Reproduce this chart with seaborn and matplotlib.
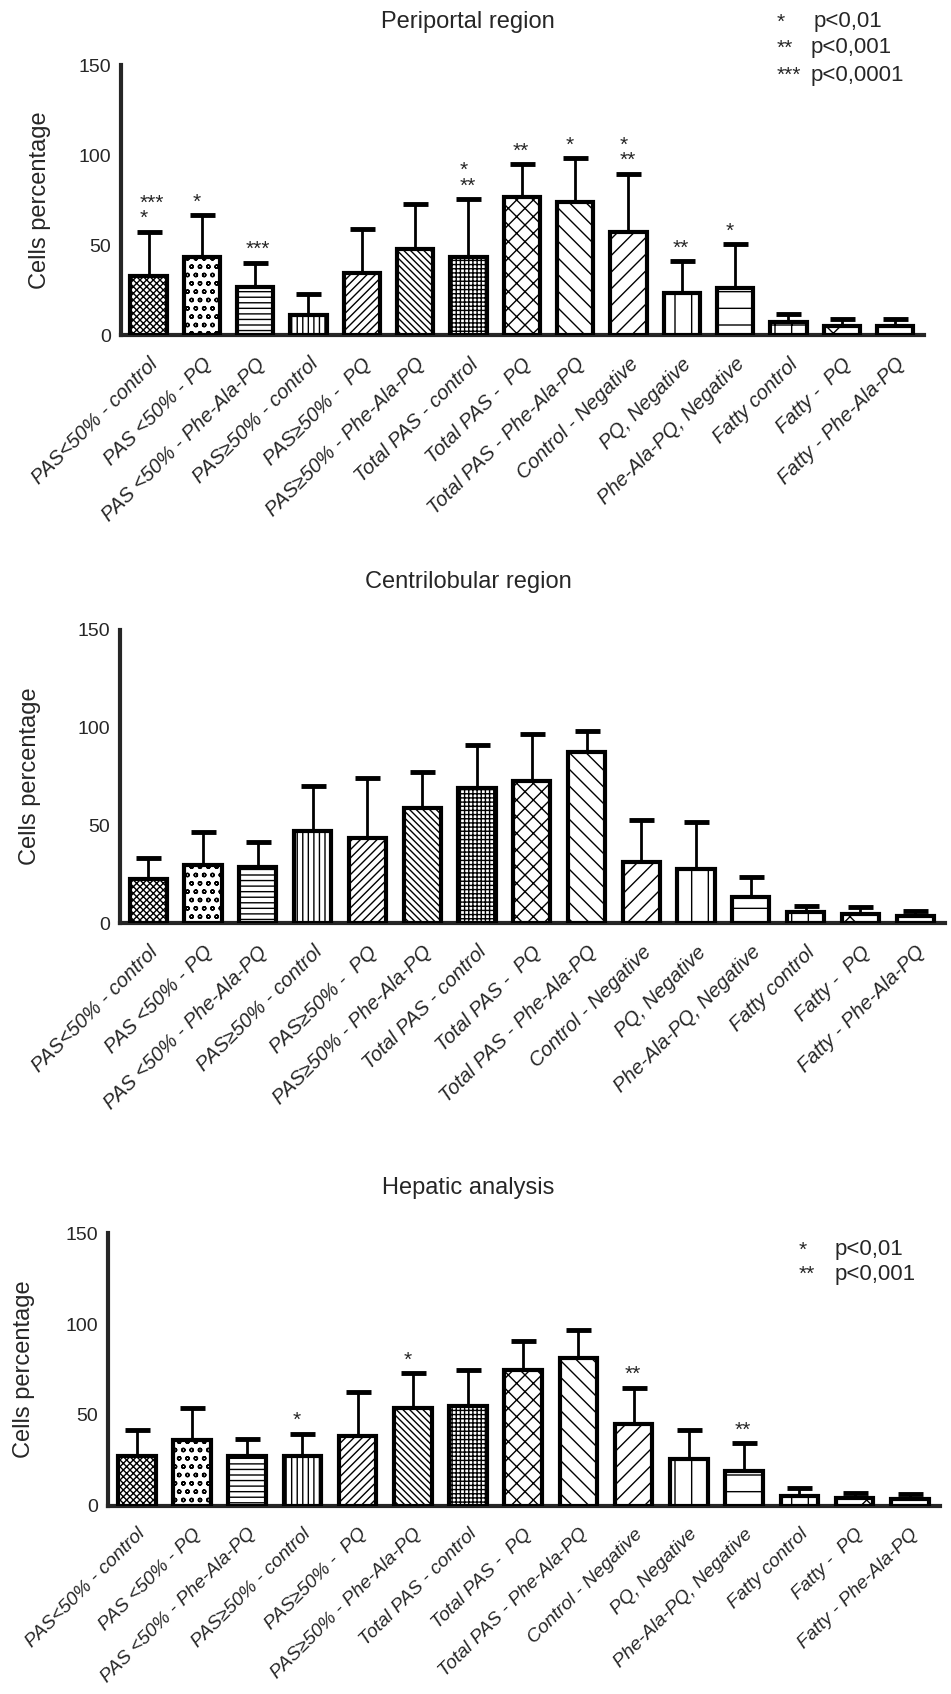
import numpy as np
import matplotlib
matplotlib.use('Agg')
import matplotlib.pyplot as plt
import seaborn as sns

# groups on the x axis (same for the three panels)
groups = ['PAS<50% - control', 'PAS <50% - PQ', 'PAS <50% - Phe-Ala-PQ',
          'PAS≥50% - control', 'PAS≥50% -  PQ', 'PAS≥50% - Phe-Ala-PQ',
          'Total PAS - control', 'Total PAS -  PQ', 'Total PAS - Phe-Ala-PQ',
          'Control - Negative', 'PQ, Negative', 'Phe-Ala-PQ, Negative',
          'Fatty control', 'Fatty -  PQ', 'Fatty - Phe-Ala-PQ']

# Periportal region
peri_mean = [32.8, 43.4, 26.9, 11.3, 34.3, 48.0, 43.4, 76.8, 73.8, 57.4, 23.2, 26.4, 7.0, 5.2, 4.8]
peri_sd = [24.6, 23.2, 13.3, 11.4, 24.7, 25.0, 32.2, 18.0, 24.4, 32.3, 17.9, 24.0, 4.6, 3.7, 4.1]
peri_stars = ['***\n*', '*', '***', '', '', '', '*\n**', '**', '*', '*\n**', '**', '*', '', '', '']

# Centrilobular region
cent_mean = [22.3, 29.9, 28.7, 47.3, 43.6, 59.1, 69.1, 72.8, 87.7, 31.3, 27.7, 13.2, 5.6, 4.6, 3.4]
cent_sd = [11.1, 16.9, 13.0, 22.6, 30.4, 18.3, 21.9, 24.0, 10.6, 21.6, 23.8, 10.6, 3.2, 3.7, 2.9]

# Hepatic analysis
hep_mean = [27.6, 36.5, 27.6, 27.6, 38.2, 53.8, 55.1, 74.5, 81.5, 45.3, 25.8, 19.3, 5.6, 4.5, 3.6]
hep_sd = [14.0, 17.3, 9.3, 12.0, 24.5, 19.1, 19.6, 15.9, 15.0, 19.6, 15.8, 15.2, 4.2, 2.4, 2.9]
hep_stars = ['', '', '', '*', '', '*', '', '', '', '**', '', '**', '', '', '']

yticks = [0, 50, 100, 150]

hatches = ['xxxxx', 'oo', '---', '|||', '////', '\\\\\\\\\\', '++++', 'xx',
           '\\\\', '//', '|', '-', '+', 'x', '-']

sns.set_style('white')
plt.rcParams['font.family'] = ['Liberation Sans', 'DejaVu Sans']
plt.rcParams['hatch.linewidth'] = 1.0
plt.rcParams['hatch.color'] = 'black'

fig = plt.figure(figsize=(9.51, 16.94), dpi=100)


def draw_panel(rect, means, sds, title, title_y, stars=None, pad=20, lab_size=14.5):
    ax = fig.add_axes(rect)
    sns.barplot(x=groups, y=means, color='white', edgecolor='black', linewidth=3,
                width=0.68, errorbar=None, ax=ax, zorder=3)
    for patch, h in zip(ax.patches, hatches):
        patch.set_hatch(h)
        patch.set_facecolor('white')
    x = np.arange(len(groups))
    ax.errorbar(x, means, yerr=[np.zeros(len(sds)), sds], fmt='none', ecolor='black',
                elinewidth=2, capsize=9, capthick=3.5, zorder=2)
    if stars:
        for i, s in enumerate(stars):
            if s:
                ax.text(i - 0.17, means[i] + sds[i] + 2.0, s, ha='left', va='bottom',
                        fontsize=15, linespacing=0.75)
    ax.set_xlim(-0.52, 14.55)
    ax.set_ylim(0, 150)
    ax.set_yticks(yticks)
    ax.tick_params(axis='y', direction='out', length=6, width=3, labelsize=14, pad=1)
    ax.tick_params(axis='x', direction='out', length=10, width=3, pad=4)
    ax.set_xticks(x)
    ax.set_xticklabels(groups, rotation=45, ha='right', rotation_mode='anchor',
                       fontstyle='italic', fontsize=lab_size)
    for side in ['top', 'right']:
        ax.spines[side].set_visible(False)
    for side in ['left', 'bottom']:
        ax.spines[side].set_linewidth(3)
    ax.set_ylabel('Cells percentage', fontsize=17, labelpad=pad)
    ax.set_xlabel('')
    fig.text(0.492, title_y, title, ha='center', va='center', fontsize=17)
    return ax


ax1 = draw_panel([0.127, 0.8022, 0.845, 0.1594], peri_mean, peri_sd,
                 'Periportal region', 1 - 22 / 1694, peri_stars, pad=20)
ax2 = draw_panel([0.126, 0.4551, 0.868, 0.1730], cent_mean, cent_sd,
                 'Centrilobular region', 1 - 582 / 1694, pad=26)
ax3 = draw_panel([0.1136, 0.1110, 0.875, 0.1611], hep_mean, hep_sd,
                 'Hepatic analysis', 1 - 1188 / 1694, hep_stars, pad=22, lab_size=13.8)

# significance keys
fig.text(0.817, 1 - 22 / 1694, '*', fontsize=15, va='center')
fig.text(0.855, 1 - 22 / 1694, 'p<0,01', fontsize=16, va='center')
fig.text(0.817, 1 - 48 / 1694, '**', fontsize=15, va='center')
fig.text(0.852, 1 - 48 / 1694, 'p<0,001', fontsize=16, va='center')
fig.text(0.817, 1 - 75 / 1694, '***', fontsize=15, va='center')
fig.text(0.852, 1 - 75 / 1694, 'p<0,0001', fontsize=16, va='center')

fig.text(0.84, 1 - 1250 / 1694, '*', fontsize=15, va='center')
fig.text(0.878, 1 - 1250 / 1694, 'p<0,01', fontsize=16, va='center')
fig.text(0.84, 1 - 1274 / 1694, '**', fontsize=15, va='center')
fig.text(0.878, 1 - 1274 / 1694, 'p<0,001', fontsize=16, va='center')

fig.savefig('out.png', dpi=100)
